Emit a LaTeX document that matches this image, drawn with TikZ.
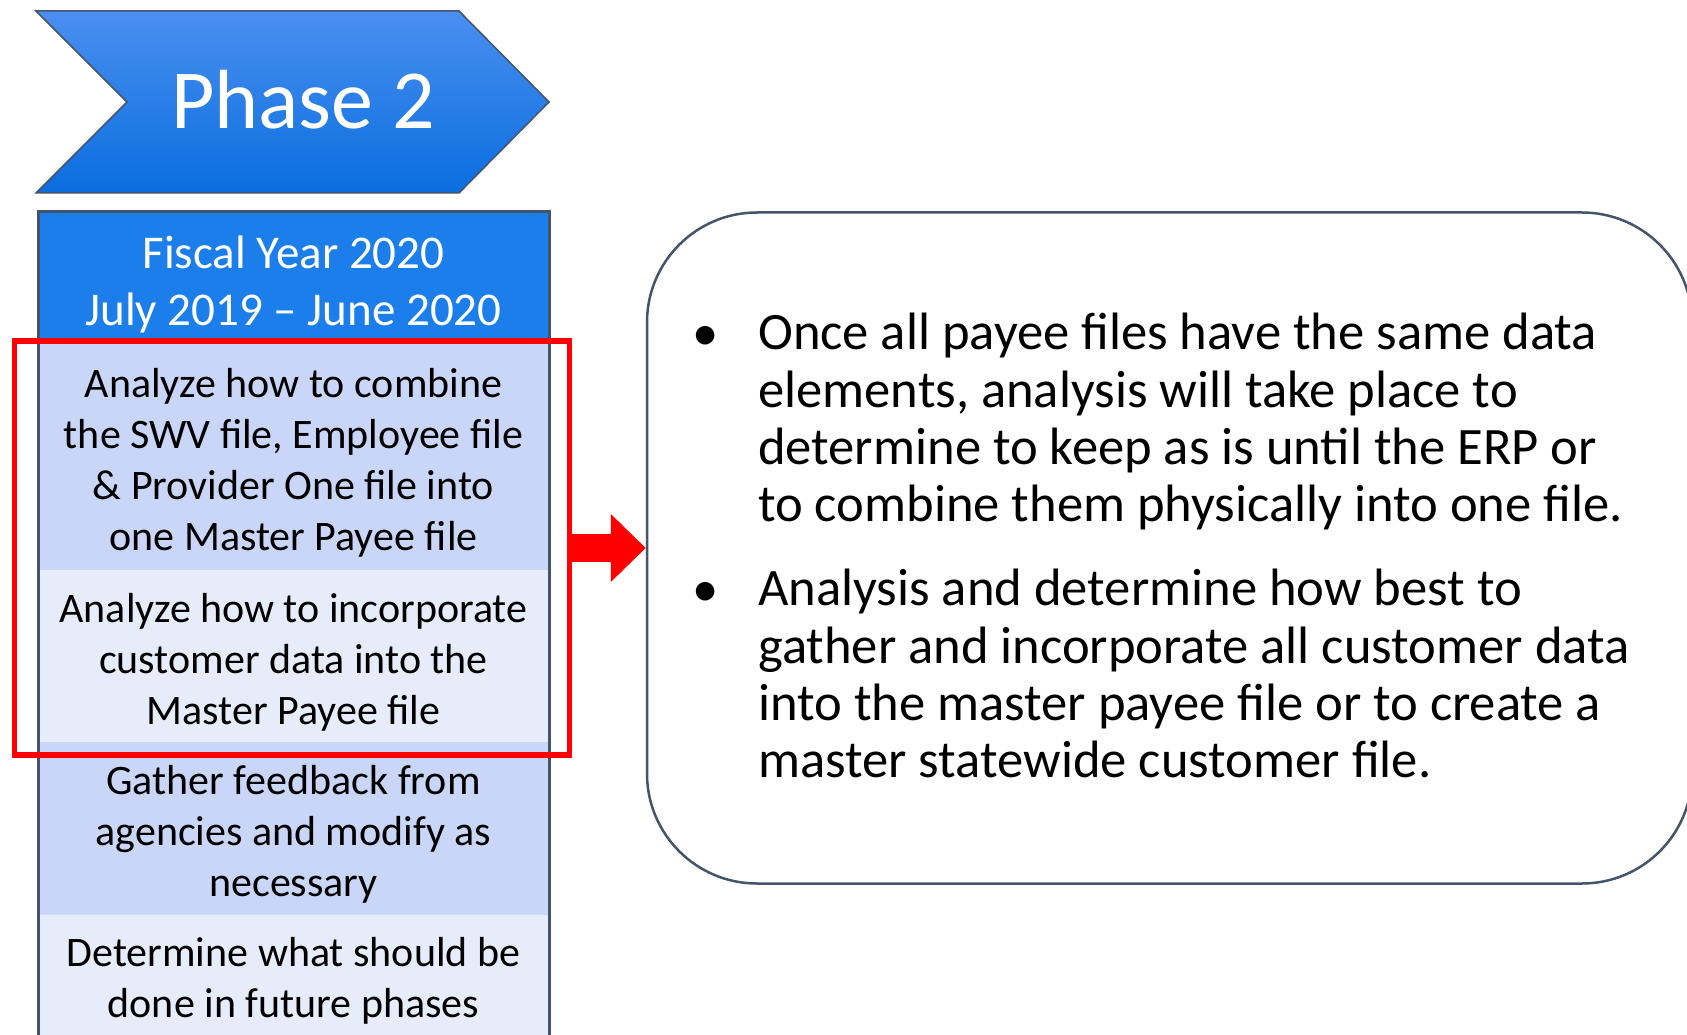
\documentclass[tikz,border=0pt]{standalone}
\usepackage{fontspec}
\setmainfont{Carlito}
\usepackage{tikz}
\usetikzlibrary{positioning,arrows.meta}
\definecolor{slate}{HTML}{44546A}
\definecolor{phtop}{HTML}{4A8FF0}
\definecolor{phbot}{HTML}{0A6EDF}
\definecolor{headblue}{HTML}{1B7EEB}
\definecolor{rowdark}{HTML}{C9D6F7}
\definecolor{rowlight}{HTML}{E7ECFB}

\begin{document}
\begin{tikzpicture}[x=1pt,y=-1pt,
    cell/.style={minimum width=511pt,inner sep=0pt,outer sep=0pt},
    celltext/.style={align=center,inner sep=0pt,font=\fontsize{42}{50.9}\selectfont},
    bul/.style={anchor=base,inner sep=0pt,font=\fontsize{52.6}{57.4}\selectfont},
    note/.style={anchor=north west,align=left,inner sep=0pt,font=\fontsize{52.6}{57.4}\selectfont}]
    \useasboundingbox (0,0) rectangle (1687,1035);
    % phase chevron
    \draw[slate,line width=1.5pt,top color=phtop,bottom color=phbot] (36,11) -- (459,11) -- (549,102)
    -- (459,193) -- (36,193) -- (127,102) -- cycle;
    \node[white,anchor=base,inner sep=0pt,font=\fontsize{84}{100}\selectfont] (phase) at (303,129) {Phase 2};
    % year column
    \node[cell,fill=headblue,minimum height=130pt,anchor=north] (head) at (293.5,212) {};
    \node[cell,fill=rowdark,minimum height=228pt,below=0pt of head] (rowA) {};
    \node[cell,fill=rowlight,minimum height=172pt,below=0pt of rowA] (rowB) {};
    \node[cell,fill=rowdark,minimum height=173pt,below=0pt of rowB] (rowC) {};
    \node[cell,fill=rowlight,minimum height=132pt,below=0pt of rowC] (rowD) {};
    \draw[slate,line width=3pt] (head.north west) rectangle (rowD.south east);
    \node[celltext,text=white,font=\fontsize{47}{57}\selectfont] (headText) at ([yshift=-7pt]head.center)
      {Fiscal Year 2020\\July 2019 -- June 2020};
    \node[celltext] (textA) at ([yshift=-6.5pt]rowA.center)
      {Analyze how to combine\\the SWV file, Employee file\\\& Provider One file into\\one Master Payee file};
    \node[celltext] (textB) at ([yshift=-6pt]rowB.center)
      {Analyze how to incorporate\\customer data into the\\Master Payee file};
    \node[celltext] (textC) at ([yshift=-6pt]rowC.center)
      {Gather feedback from\\agencies and modify as\\necessary};
    \node[celltext] (textD) at (rowD.center)
      {Determine what should be\\done in future phases};
    % highlight and notes
    \node[draw=red,line width=5.5pt,minimum width=555pt,minimum height=414pt,inner sep=0pt] (focus) at (292,548) {};
    \node[draw=slate,line width=2.5pt,rounded corners=110pt,minimum width=1045pt,minimum height=671pt] (notes) at (1169.5,548) {};
    \draw[red,line width=28pt,-{Triangle[length=35pt,width=66pt]}] (focus.east) -- (notes.west);
    \node[bul] (bulA) at (706,350) {\textbullet};
    \node[note] (txtA) at (758,313) {Once all payee files have the same data\\elements, analysis will take place to\\determine to keep as is until the ERP or\\to combine them physically into one file.};
    \node[bul] (bulB) at (706,606) {\textbullet};
    \node[note] (txtB) at (758,569) {Analysis and determine how best to\\gather and incorporate all customer data\\into the master payee file or to create a\\master statewide customer file.};
\end{tikzpicture}
\end{document}
